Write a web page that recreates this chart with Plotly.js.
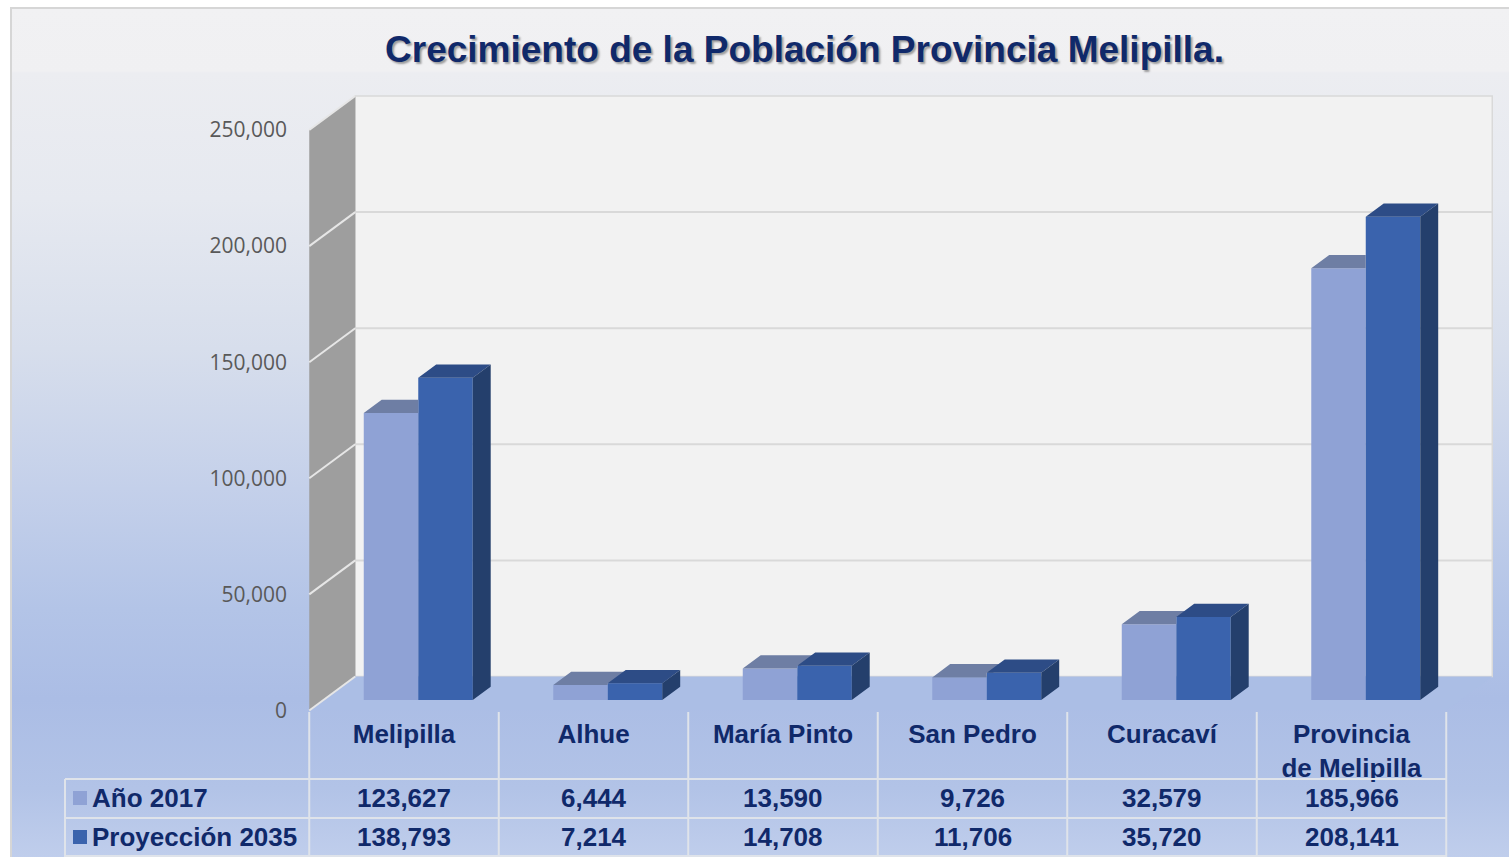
<!DOCTYPE html>
<html>
<head>
<meta charset="utf-8">
<script src="https://cdn.plot.ly/plotly-3.0.1.min.js"></script>
<style>
  html, body { margin: 0; padding: 0; background: #ffffff; overflow: hidden; }
  #bg {
    position: absolute; left: 10px; top: 7px; width: 1499px; height: 850px;
    border-top: 2px solid #d6d6d6; border-left: 2px solid #d6d6d6; box-sizing: border-box;
    background: linear-gradient(to bottom,
      #f1f1f3 0px, #f0f0f2 62px, #ecedf1 64px, #e6e9f0 190px, #d7deec 340px,
      #c4d0ea 480px, #b3c4e7 600px, #abbde5 690px, #b2c3e7 780px, #c0ceec 850px);
  }
  #chart { position: absolute; left: 0; top: 0; width: 1509px; height: 857px; }
</style>
</head>
<body>
<div id="bg"></div>
<div id="chart"></div>
<script>
// ---------- data ----------
const categories = ['Melipilla', 'Alhue', 'María Pinto', 'San Pedro', 'Curacaví', 'Provincia<br>de Melipilla'];
const seriesNames = ['Año 2017', 'Proyección 2035'];
const values2017 = [123627, 6444, 13590, 9726, 32579, 185966];
const values2035 = [138793, 7214, 14708, 11706, 35720, 208141];
const yTickVals = [0, 50000, 100000, 150000, 200000, 250000];
const titleText = 'Crecimiento de la Población Provincia Melipilla.';

// ---------- layout geometry (pixels of the 1509x857 page) ----------
const W = 1509, H = 857;
const CAT_PX = 189.5, CAT0_PX = 404;          // width of one category, centre of the first
const Y0_PX = 710.5, YSCALE = 580.5 / 250000;  // pixel row of value 0 on the front plane, px per unit
const DEPTH_DX_PX = 46, DEPTH_DY_PX = 34;      // oblique shift of the back wall
const DX = DEPTH_DX_PX / CAT_PX, DY = DEPTH_DY_PX / YSCALE;
const BAR_W = 54.5 / CAT_PX;
const Z0 = 0.31, Z1 = 0.70;                    // bar depth span (0 = front, 1 = back wall)
const xRange = [-CAT0_PX / CAT_PX, (W - CAT0_PX) / CAT_PX];
const yRange = [-(H - Y0_PX) / YSCALE, Y0_PX / YSCALE];
const fx = px => px / W, fy = py => 1 - py / H;

const colors = {
  front: ['#8fa2d5', '#3a63ad'],
  top: ['#6e7ea4', '#2d4c86'],
  side: '#243f6c',
  wallBack: '#f2f2f2', wallLeft: '#9e9e9e', floor: '#abbee5',
  gridBack: '#d9d9d9', gridLeft: '#e6e6e6', table: '#dfe3ea',
  navy: '#10296a', tick: '#595959'
};

const P = (x, v, z) => [x + z * DX, v + z * DY];
const path = pts => 'M' + pts.map(p => p[0] + ',' + p[1]).join('L') + 'Z';
const yMax = yTickVals[yTickVals.length - 1];
const xL = -0.5, xR = categories.length - 0.5;

// ---------- 3D frame (walls, floor, gridlines) ----------
const shapes = [];
shapes.push({type: 'path', xref: 'x', yref: 'y', layer: 'below',
  path: path([P(xL, 0, 1), P(xR, 0, 1), P(xR, yMax, 1), P(xL, yMax, 1)]),
  fillcolor: colors.wallBack, line: {color: colors.gridBack, width: 1.5}});
shapes.push({type: 'path', xref: 'x', yref: 'y', layer: 'below',
  path: path([P(xL, 0, 0), P(xL, 0, 1), P(xL, yMax, 1), P(xL, yMax, 0)]),
  fillcolor: colors.wallLeft, line: {width: 0}});
shapes.push({type: 'path', xref: 'x', yref: 'y', layer: 'below',
  path: path([P(xL, 0, 0), P(xR, 0, 0), P(xR, 0, 1), P(xL, 0, 1)]),
  fillcolor: colors.floor, line: {width: 0}});
yTickVals.forEach(v => {
  if (v > 0 && v < yMax) {
    const a = P(xL, v, 1), b = P(xR, v, 1);
    shapes.push({type: 'line', xref: 'x', yref: 'y', layer: 'below',
      x0: a[0], y0: a[1], x1: b[0], y1: b[1], line: {color: colors.gridBack, width: 2}});
  }
  const c = P(xL, v, 0), d = P(xL, v, 1);
  shapes.push({type: 'line', xref: 'x', yref: 'y', layer: 'below',
    x0: c[0], y0: c[1], x1: d[0], y1: d[1], line: {color: colors.gridLeft, width: 2}});
});

// ---------- data table grid ----------
const tblTop = 712, row1 = 779, row2 = 818, tblBottom = 856, tblLeft = 65;
for (let i = 0; i <= categories.length; i++) {
  shapes.push({type: 'line', xref: 'x', yref: 'paper', x0: i - 0.5, x1: i - 0.5,
    y0: fy(tblTop), y1: fy(H), line: {color: colors.table, width: 2}});
}
[row1, row2, tblBottom].forEach(r => {
  shapes.push({type: 'line', xref: 'paper', yref: 'paper', x0: fx(tblLeft), x1: fx(CAT0_PX + CAT_PX * xR),
    y0: fy(r), y1: fy(r), line: {color: colors.table, width: 2}});
});
shapes.push({type: 'line', xref: 'paper', yref: 'paper', x0: fx(tblLeft), x1: fx(tblLeft),
  y0: fy(row1), y1: fy(H), line: {color: colors.table, width: 2}});

// legend keys in the table
const rowsY = [798, 837];
rowsY.forEach((ry, s) => {
  shapes.push({type: 'rect', xref: 'paper', yref: 'paper', x0: fx(73), x1: fx(87),
    y0: fy(ry + 7), y1: fy(ry - 7), fillcolor: colors.front[s], line: {width: 0}});
});

// ---------- bars ----------
const series = [values2017, values2035];
const traces = [];
series.forEach((vals, s) => {
  traces.push({
    type: 'bar', name: seriesNames[s],
    x: vals.map((v, i) => i + (s === 0 ? -BAR_W / 2 : BAR_W / 2) + Z0 * DX),
    y: vals, base: Z0 * DY, width: BAR_W,
    marker: {color: colors.front[s], line: {width: 0}},
    hovertemplate: '%{y:,}<extra>' + seriesNames[s] + '</extra>', showlegend: false
  });
});

// top faces and side faces (oblique projection)
const faceTrace = (polys, color) => {
  const xs = [], ys = [];
  polys.forEach(pl => { pl.forEach(p => { xs.push(p[0]); ys.push(p[1]); }); xs.push(null); ys.push(null); });
  return {type: 'scatter', mode: 'lines', x: xs, y: ys, fill: 'toself', fillcolor: color,
    line: {width: 0, color: color}, hoverinfo: 'skip', showlegend: false};
};
const E = (Z1 - Z0) * DY, Dd = (Z1 - Z0) * DX;
// 2017 top faces, minus the part hidden behind the 2035 front face
const tops2017 = values2017.map((v, i) => {
  const xl = i - BAR_W, xr = i;
  const A = P(xl, v, Z0), B = P(xr, v, Z0), C = P(xr, v, Z1), D = P(xl, v, Z1);
  const t2 = P(xr, values2035[i], Z0)[1];
  if (t2 >= C[1]) return [A, B, [B[0], C[1]], D];
  if (t2 <= B[1]) return [A, B, C, D];
  const px = B[0] + (t2 - B[1]) * Dd / E;
  return [A, B, [B[0], t2], [px, t2], C, D];
});
traces.push(faceTrace(tops2017, colors.top[0]));
const tops2035 = values2035.map((v, i) => {
  const xl = i, xr = i + BAR_W;
  return [P(xl, v, Z0), P(xr, v, Z0), P(xr, v, Z1), P(xl, v, Z1)];
});
traces.push(faceTrace(tops2035, colors.top[1]));
const sides2035 = values2035.map((v, i) => {
  const xr = i + BAR_W;
  return [P(xr, 0, Z0), P(xr, v, Z0), P(xr, v, Z1), P(xr, 0, Z1)];
});
traces.push(faceTrace(sides2035, colors.side));

// ---------- table values ----------
const tableFont = {family: 'Liberation Sans, Arial, sans-serif', size: 26, color: colors.navy, weight: 'bold'};
const annotations = [];
series.forEach((vals, s) => {
  annotations.push({xref: 'paper', yref: 'paper', x: fx(90), y: fy(rowsY[s]), xanchor: 'left', yanchor: 'middle',
    text: seriesNames[s], showarrow: false, font: tableFont});
  vals.forEach((v, i) => {
    annotations.push({xref: 'x', yref: 'paper', x: i, y: fy(rowsY[s]), xanchor: 'center', yanchor: 'middle',
      text: v.toLocaleString('en-US'), showarrow: false, font: tableFont});
  });
});

const layout = {
  width: W, height: H,
  margin: {l: 0, r: 0, t: 0, b: 0, pad: 0},
  paper_bgcolor: 'rgba(0,0,0,0)', plot_bgcolor: 'rgba(0,0,0,0)',
  barmode: 'overlay', showlegend: false,
  title: {text: titleText, x: fx(804.5), xanchor: 'center', y: fy(49), yanchor: 'middle',
    font: {family: 'Liberation Sans, Arial, sans-serif', size: 37, color: colors.navy, weight: 'bold',
      shadow: '2px 2px 2px rgba(0,0,0,0.35)'}},
  xaxis: {range: xRange, domain: [0, 1], anchor: 'free', position: fy(716),
    showgrid: false, zeroline: false, showline: false, ticks: '',
    tickmode: 'array', tickvals: categories.map((c, i) => i), ticktext: categories,
    tickfont: tableFont, fixedrange: true},
  yaxis: {range: yRange, domain: [0, 1], anchor: 'free', position: fx(287),
    showgrid: false, zeroline: false, showline: false, ticks: '',
    tickmode: 'array', tickvals: yTickVals, tickformat: ',',
    tickfont: {family: 'Open Sans, sans-serif', size: 21, color: colors.tick}, fixedrange: true},
  shapes: shapes,
  annotations: annotations
};

Plotly.newPlot('chart', traces, layout, {displayModeBar: false, responsive: false});
</script>
</body>
</html>
